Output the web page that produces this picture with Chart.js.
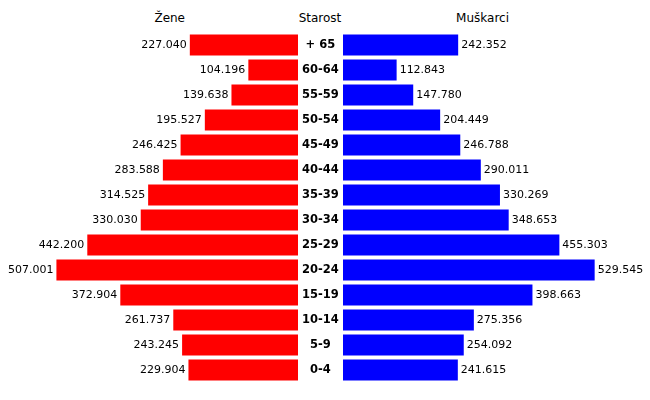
<!DOCTYPE html>
<html>
<head>
<meta charset="utf-8">
<script src="https://cdn.jsdelivr.net/npm/chart.js@4.4.1/dist/chart.umd.min.js"></script>
<style>
  body { margin: 0; background: #fff; }
  #wrap { position: relative; width: 650px; height: 400px; font-family: "DejaVu Sans", sans-serif; }
  canvas { position: absolute; top: 0; }
  .hdr { position: absolute; top: 11px; font-size: 12px; color: #000; }
</style>
</head>
<body>
<div id="wrap">
  <div class="hdr" style="right:465px">Žene</div>
  <div class="hdr" style="left:320px; transform:translateX(-50%)">Starost</div>
  <div class="hdr" style="right:141px">Muškarci</div>
  <canvas id="left" width="343" height="400" style="left:0"></canvas>
  <canvas id="right" width="307" height="400" style="left:343px"></canvas>
</div>
<script>
const ageGroups = ['+ 65', '60-64', '55-59', '50-54', '45-49', '40-44', '35-39',
  '30-34', '25-29', '20-24', '15-19', '10-14', '5-9', '0-4'];
const women = [227040, 104196, 139638, 195527, 246425, 283588, 314525,
  330030, 442200, 507001, 372904, 261737, 243245, 229904];
const men = [242352, 112843, 147780, 204449, 246788, 290011, 330269,
  348653, 455303, 529545, 398663, 275356, 254092, 241615];

function fmt(v) {
  return String(v).replace(/\B(?=(\d{3})+(?!\d))/g, '.');
}

// writes the value next to the end of every bar
const valueLabels = {
  id: 'valueLabels',
  afterDatasetsDraw(chart, args, opts) {
    const ctx = chart.ctx;
    const meta = chart.getDatasetMeta(0);
    const data = chart.data.datasets[0].data;
    ctx.save();
    ctx.font = '11px "DejaVu Sans"';
    ctx.fillStyle = '#000';
    ctx.textBaseline = 'middle';
    ctx.textAlign = opts.side === 'left' ? 'right' : 'left';
    meta.data.forEach((bar, i) => {
      const x = opts.side === 'left' ? bar.x - 3 : bar.x + 3;
      ctx.fillText(fmt(data[i]), x, bar.y);
    });
    ctx.restore();
  }
};

const common = {
  responsive: false,
  animation: false,
  indexAxis: 'y',
  layout: { padding: { top: 32.5, bottom: 17.5, left: 0, right: 0 } },
  plugins: { legend: { display: false }, tooltip: { enabled: false } }
};

new Chart(document.getElementById('left'), {
  type: 'bar',
  data: {
    labels: ageGroups,
    datasets: [{ data: women, backgroundColor: '#ff0000', barPercentage: 0.84, categoryPercentage: 1 }]
  },
  options: {
    ...common,
    plugins: { ...common.plugins, valueLabels: { side: 'left' } },
    scales: {
      x: { reverse: true, min: 0, max: 625400, display: false },
      y: {
        position: 'right',
        grid: { display: false, drawTicks: false },
        border: { display: false },
        afterFit: s => { s.width = 45; },
        ticks: {
          crossAlign: 'center',
          padding: 4,
          color: '#000',
          font: { family: 'DejaVu Sans', size: 11.5, weight: 'bold' }
        }
      }
    }
  },
  plugins: [valueLabels]
});

new Chart(document.getElementById('right'), {
  type: 'bar',
  data: {
    labels: ageGroups,
    datasets: [{ data: men, backgroundColor: '#0000ff', barPercentage: 0.84, categoryPercentage: 1 }]
  },
  options: {
    ...common,
    plugins: { ...common.plugins, valueLabels: { side: 'right' } },
    scales: {
      x: { min: 0, max: 646000, display: false },
      y: { display: false }
    }
  },
  plugins: [valueLabels]
});
</script>
</body>
</html>
